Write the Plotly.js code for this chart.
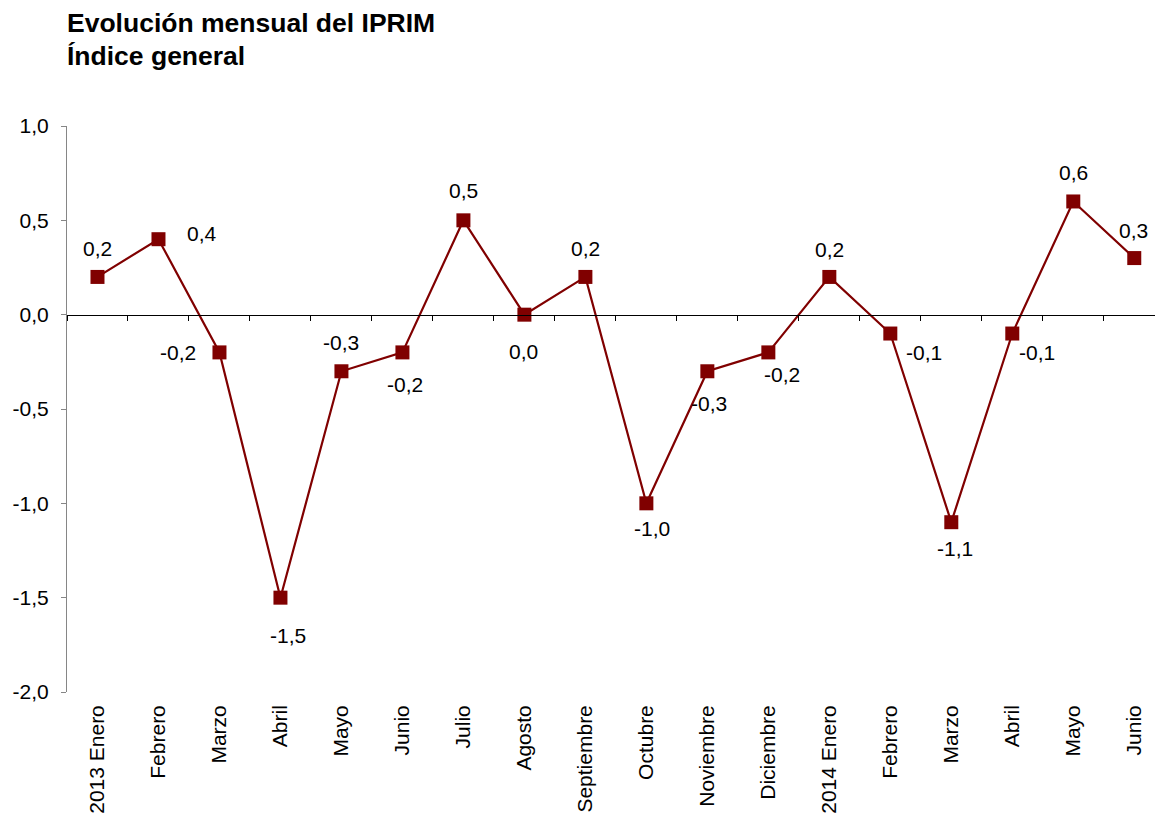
<!DOCTYPE html>
<html>
<head>
<meta charset="utf-8">
<script src="https://cdn.plot.ly/plotly-3.0.1.min.js"></script>
<style>html,body{margin:0;padding:0;background:#fff;}#chart{width:1155px;height:814px;}</style>
</head>
<body>
<div id="chart"></div>
<script>
// Data
const categories = ["2013 Enero","Febrero","Marzo","Abril","Mayo","Junio","Julio","Agosto","Septiembre","Octubre","Noviembre","Diciembre","2014 Enero","Febrero ","Marzo ","Abril ","Mayo ","Junio "];
const tickLabels = ["2013 Enero","Febrero","Marzo","Abril","Mayo","Junio","Julio","Agosto","Septiembre","Octubre","Noviembre","Diciembre","2014 Enero","Febrero","Marzo","Abril","Mayo","Junio"];
const values = [0.2,0.4,-0.2,-1.5,-0.3,-0.2,0.5,0.0,0.2,-1.0,-0.3,-0.2,0.2,-0.1,-1.1,-0.1,0.6,0.3];
const yTickVals = [-2,-1.5,-1,-0.5,0,0.5,1];
const titleLines = ["Evolución mensual del IPRIM","Índice general"];

// Label placement (pixel offsets of each data label from its marker: [dx, dy down])
const labelOffsets = [[0,-28],[44,-6],[-41,0],[8,38],[0,-29],[3,32],[0,-30],[-1,37],[0,-28],[6,25],[2,32],[14,22],[0,-27],[34,19],[4,26],[25,19],[0,-29],[-1,-28]];

const yMin = -2, yMax = 1;
const xRange = [-0.5, 17.34];
const darkRed = '#800000';
const fontFam = 'Arial, "Liberation Sans", sans-serif';
const fs = 21;

const fmt = v => v.toFixed(1).replace('.', ',');

const traces = [
  {
    x: categories, y: values, type: 'scatter', mode: 'lines+markers',
    line: {color: darkRed, width: 2.2},
    marker: {symbol: 'square', size: 14, color: darkRed},
    hoverinfo: 'skip', showlegend: false, cliponaxis: false
  },
  {
    x: categories, y: values, type: 'scatter', mode: 'lines', xaxis: 'x2',
    line: {width: 0}, opacity: 0, hoverinfo: 'skip', showlegend: false
  }
];

const annotations = values.map((v, i) => ({
  x: categories[i], y: v, xref: 'x', yref: 'y', text: fmt(v), showarrow: false,
  xanchor: 'center', yanchor: 'middle',
  xshift: labelOffsets[i][0], yshift: -labelOffsets[i][1],
  font: {family: fontFam, size: fs, color: '#000'}
}));

annotations.push({
  xref: 'paper', yref: 'paper', x: 0, y: 1, xanchor: 'left', yanchor: 'middle',
  xshift: -2, yshift: 126 - 23, text: '<b>' + titleLines[0] + '</b>', showarrow: false,
  font: {family: fontFam, size: 26.5, color: '#000'}
});
annotations.push({
  xref: 'paper', yref: 'paper', x: 0, y: 1, xanchor: 'left', yanchor: 'middle',
  xshift: -2, yshift: 126 - 56, text: '<b>' + titleLines[1] + '</b>', showarrow: false,
  font: {family: fontFam, size: 26.5, color: '#000'}
});

const layout = {
  width: 1155, height: 814,
  margin: {l: 67, r: 0, t: 126, b: 122},
  paper_bgcolor: '#fff', plot_bgcolor: '#fff',
  separators: ',.',
  font: {family: fontFam, size: fs, color: '#000'},
  showlegend: false,
  xaxis: {
    type: 'category', categoryorder: 'array', categoryarray: categories,
    range: xRange, showgrid: false, zeroline: false, showline: false,
    ticks: '', tickangle: -90, tickvals: categories, ticktext: tickLabels,
    tickfont: {family: fontFam, size: fs, color: '#000'},
    ticklabelstandoff: 8, automargin: false, fixedrange: true
  },
  xaxis2: {
    type: 'category', categoryorder: 'array', categoryarray: categories,
    overlaying: 'x', anchor: 'free', position: (0 - yMin) / (yMax - yMin),
    range: xRange, showgrid: false, zeroline: false,
    showline: true, linecolor: '#000', linewidth: 1,
    ticks: 'outside', tickson: 'boundaries', ticklen: 5, tickcolor: '#000', tickwidth: 1,
    showticklabels: false, automargin: false, fixedrange: true
  },
  yaxis: {
    range: [yMin, yMax], tickmode: 'array', tickvals: yTickVals, ticktext: yTickVals.map(fmt),
    showgrid: false, zeroline: false, showline: true, linecolor: '#868686', linewidth: 1,
    ticks: 'outside', ticklen: 5, tickcolor: '#868686',
    tickfont: {family: fontFam, size: fs, color: '#000'},
    ticklabelstandoff: 8, automargin: false, fixedrange: true
  },
  annotations: annotations
};

Plotly.newPlot('chart', traces, layout, {displayModeBar: false, staticPlot: true});
</script>
</body>
</html>
